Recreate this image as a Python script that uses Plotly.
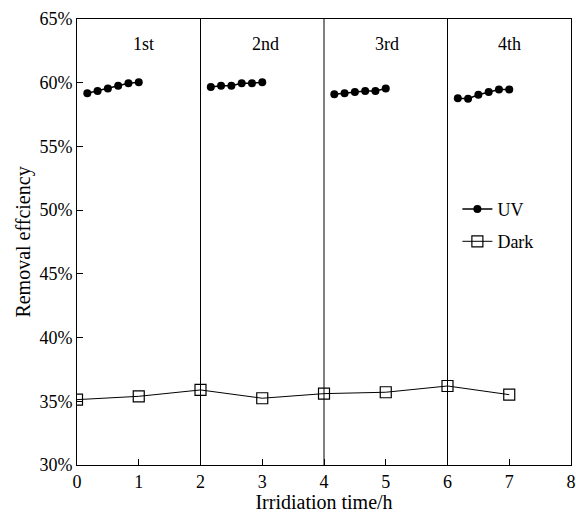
import plotly.graph_objects as go

# UV series (four cycles)
uv_x = [0.167, 0.333, 0.5, 0.667, 0.833, 1.0, None,
        2.167, 2.333, 2.5, 2.667, 2.833, 3.0, None,
        4.167, 4.333, 4.5, 4.667, 4.833, 5.0, None,
        6.167, 6.333, 6.5, 6.667, 6.833, 7.0]
uv_y = [59.17, 59.35, 59.54, 59.77, 59.96, 60.04, None,
        59.67, 59.77, 59.77, 59.96, 59.96, 60.04, None,
        59.10, 59.17, 59.28, 59.35, 59.35, 59.54, None,
        58.78, 58.75, 59.06, 59.28, 59.46, 59.46]

# Dark series
dark_x = [0, 1, 2, 3, 4, 5, 6, 7]
dark_y = [35.13, 35.39, 35.89, 35.24, 35.60, 35.71, 36.20, 35.52]

cycle_labels = ["1st", "2nd", "3rd", "4th"]
cycle_label_x = [1.07, 3.05, 5.02, 7.01]
cycle_label_y = 63.05
divider_x = [2, 4, 6]

font = "Liberation Serif, Times New Roman, serif"

fig = go.Figure()
fig.add_trace(go.Scatter(x=uv_x, y=uv_y, mode="lines+markers", name="UV",
                         legendgroup="uv",
                         line=dict(color="black", width=1.5),
                         marker=dict(symbol="circle", size=8, color="black"),
                         connectgaps=False))
fig.add_trace(go.Scatter(x=dark_x, y=dark_y, mode="lines+markers", name="Dark",
                         legendgroup="dark",
                         line=dict(color="black", width=1),
                         marker=dict(symbol="square-open", size=11, color="black",
                                     line=dict(width=1.2))))

for xv in divider_x:
    fig.add_shape(type="line", x0=xv, x1=xv, y0=0, y1=1, xref="x", yref="paper",
                  line=dict(color="black", width=1))

for lab, lx in zip(cycle_labels, cycle_label_x):
    fig.add_annotation(x=lx, y=cycle_label_y, text=lab, showarrow=False,
                       font=dict(family=font, size=18, color="black"))

fig.update_layout(
    width=576, height=513,
    margin=dict(l=77, r=5, t=19, b=48, autoexpand=False),
    paper_bgcolor="white", plot_bgcolor="white",
    font=dict(family=font, size=18, color="black"),
    showlegend=True,
    legend=dict(x=0.77, y=0.615, xanchor="left", yanchor="top",
                bgcolor="rgba(0,0,0,0)", font=dict(size=18), tracegroupgap=6,
                itemwidth=30),
)
fig.update_xaxes(range=[0, 8], dtick=1, tick0=0, showgrid=False, zeroline=False,
                 showline=True, linecolor="black", linewidth=1, mirror=True,
                 ticks="inside", ticklen=6, tickcolor="black", automargin=False,
                 title=dict(text="Irridiation time/h", standoff=0, font=dict(size=20)),
                 tickfont=dict(size=18))
fig.update_yaxes(range=[30, 65], dtick=5, tick0=30, ticksuffix="%", showgrid=False,
                 zeroline=False, showline=True, linecolor="black", linewidth=1,
                 mirror=True, ticks="inside", ticklen=6, tickcolor="black",
                 automargin=False,
                 title=dict(text="Removal effciency", standoff=3, font=dict(size=20)),
                 tickfont=dict(size=18))

fig.write_html("out.html", config={"displayModeBar": False},
               post_script="document.body.style.margin='0';")
